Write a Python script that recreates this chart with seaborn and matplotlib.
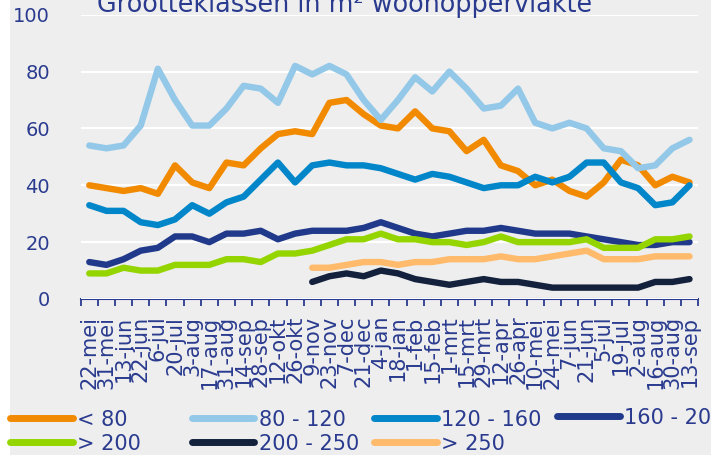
import numpy as np
import pandas as pd
import matplotlib
matplotlib.use("Agg")
import matplotlib.pyplot as plt
from matplotlib.patches import Rectangle
from matplotlib.lines import Line2D
import seaborn as sns

# data
dates = ['22-mei', '31-mei', '13-jun', '22-jun', '6-jul', '20-jul', '3-aug', '17-aug',
         '31-aug', '14-sep', '28-sep', '12-okt', '26-okt', '9-nov', '23-nov', '7-dec',
         '21-dec', '4-jan', '18-jan', '1-feb', '15-feb', '1-mrt', '15-mrt', '29-mrt',
         '12-apr', '26-apr', '10-mei', '24-mei', '7-jun', '21-jun', '5-jul', '19-jul',
         '2-aug', '16-aug', '30-aug', '13-sep']
nan = np.nan
lt_80 = [40, 39, 38, 39, 37, 47, 41, 39, 48, 47, 53, 58, 59, 58, 69, 70, 65, 61,
         60, 66, 60, 59, 52, 56, 47, 45, 40, 42, 38, 36, 41, 49, 47, 40, 43, 41]
s80_120 = [54, 53, 54, 61, 81, 70, 61, 61, 67, 75, 74, 69, 82, 79, 82, 79, 70, 63,
           70, 78, 73, 80, 74, 67, 68, 74, 62, 60, 62, 60, 53, 52, 46, 47, 53, 56]
s120_160 = [33, 31, 31, 27, 26, 28, 33, 30, 34, 36, 42, 48, 41, 47, 48, 47, 47, 46,
            44, 42, 44, 43, 41, 39, 40, 40, 43, 41, 43, 48, 48, 41, 39, 33, 34, 40]
s160_200 = [13, 12, 14, 17, 18, 22, 22, 20, 23, 23, 24, 21, 23, 24, 24, 24, 25, 27,
            25, 23, 22, 23, 24, 24, 25, 24, 23, 23, 23, 22, 21, 20, 19, 19, 20, 20]
gt_200 = [9, 9, 11, 10, 10, 12, 12, 12, 14, 14, 13, 16, 16, 17, 19, 21, 21, 23,
          21, 21, 20, 20, 19, 20, 22, 20, 20, 20, 20, 21, 18, 18, 18, 21, 21, 22]
s200_250 = [nan] * 13 + [6, 8, 9, 8, 10, 9, 7, 6, 5, 6, 7, 6, 6, 5, 4, 4, 4, 4, 4, 4, 6, 6, 7]
gt_250 = [nan] * 13 + [11, 11, 12, 13, 13, 12, 13, 13, 14, 14, 14, 15, 14, 14, 15, 16, 17,
                       14, 14, 14, 15, 15, 15]

series = ['< 80', '80 - 120', '120 - 160', '160 - 200', '> 200', '200 - 250', '> 250']
values = [lt_80, s80_120, s120_160, s160_200, gt_200, s200_250, gt_250]
colors = ['#f28a00', '#93c8e8', '#0086c9', '#20398a', '#94d500', '#14213d', '#ffbb6b']

navy = '#2a3b8f'
bg = '#eeeeee'
W, H = 727, 455

sns.set_style("white")
plt.rcParams['font.family'] = ['DejaVu Sans']

fig = plt.figure(figsize=(W / 100, H / 100), dpi=100)
fig.patch.set_facecolor('white')
fig.patches.append(Rectangle((10 / W, 0), 701 / W, 1, transform=fig.transFigure,
                             facecolor=bg, edgecolor='none', zorder=-5))
ax = fig.add_axes([80.7 / W, 1 - 299 / H, 617.4 / W, 284.3 / H])
ax.set_facecolor(bg)

x = np.arange(len(dates))
for name, vals, col in zip(series, values, colors):
    sns.lineplot(x=x, y=vals, color=col, lw=4.6, ax=ax,
                 solid_capstyle='round', solid_joinstyle='round')

ax.set_xlim(-0.5, len(dates) - 0.5)
ax.set_ylim(0, 100)
ax.set_yticks(range(0, 101, 20))
ax.yaxis.grid(True, color='white', lw=1.6)
ax.set_axisbelow(True)
for s in ['top', 'right', 'left']:
    ax.spines[s].set_visible(False)
ax.spines['bottom'].set_color(navy)
ax.spines['bottom'].set_linewidth(1.5)
ax.spines['bottom'].set_zorder(0.5)

ax.set_xticks(np.arange(-0.5, len(dates), 1))
ax.set_xticklabels([])
ax.set_xticks(x, dates, minor=True)
ax.tick_params(axis='x', which='major', direction='out', length=5, width=1.3,
               color=navy, bottom=True)
ax.tick_params(axis='x', which='minor', length=0, pad=12, labelsize=15,
               labelcolor=navy, labelrotation=90)
ax.tick_params(axis='y', length=0, pad=22, labelsize=14, labelcolor=navy)
for t in ax.get_yticklabels():
    t.set_horizontalalignment('right')

fig.text(97 / W, 1 - 12 / H, 'Grootteklassen in m\u00b2 woonoppervlakte',
         fontsize=18.4, color=navy, va='baseline', ha='left')

# legend: fixed-width columns, two rows
handles = {n: Line2D([], [], color=c, lw=5, solid_capstyle='round')
           for n, c in zip(series, colors)}
columns = [['< 80', '> 200'], ['80 - 120', '200 - 250'], ['120 - 160', '> 250'], ['160 - 200']]
col_x = [10, 192, 374, 557]
for names, cx in zip(columns, col_x):
    yc = 431.7 if len(names) == 2 else 417.7
    fig.legend([handles[n] for n in names], names, loc='center left',
               bbox_to_anchor=(cx / W, 1 - yc / H), frameon=False, fontsize=15,
               labelcolor=navy, handlelength=3.0, handletextpad=0.2,
               labelspacing=0.2, borderpad=0, borderaxespad=0)

fig.patches.append(Rectangle((711 / W, 0), 16 / W, 1, transform=fig.transFigure,
                             facecolor='white', edgecolor='none', zorder=20))

fig.savefig('out.png', dpi=100)
